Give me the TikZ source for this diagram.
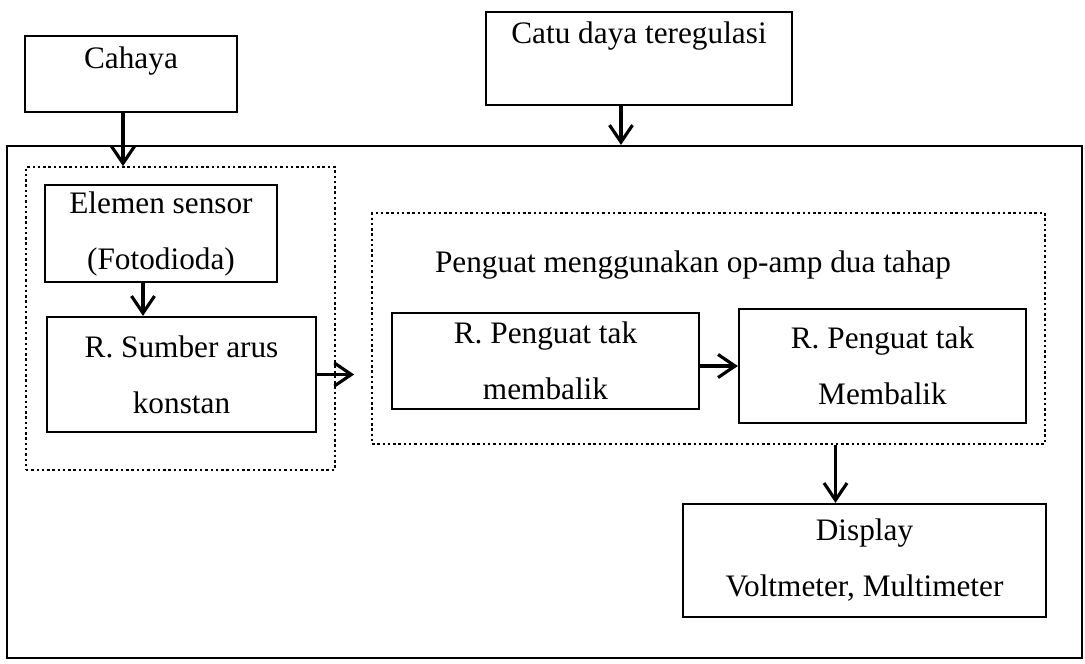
\documentclass[tikz,border=0pt]{standalone}
\usepackage{fontspec}
\setmainfont{Liberation Serif}
\usetikzlibrary{positioning}
\usetikzlibrary{arrows.meta}

\begin{document}
\begin{tikzpicture}[x=0.02cm, y=-0.02cm,
    every node/.style={font=\fontsize{17.8}{31.9}\selectfont, inner sep=0pt, align=center},
    block/.style={draw=black, line width=1.3pt, shape=rectangle},
    group/.style={draw=black, line width=1pt, dash pattern=on 1.4pt off 1.6pt},
    flow/.style={line width=1.8pt, -{Straight Barb[length=3.4mm,width=4.6mm]}}]
    \useasboundingbox (0, 0) rectangle (1085, 663);

    \node (cahaya)[block, minimum width=4.24cm, minimum height=1.52cm, text height=11.4pt, text depth=18.2pt] at (131, 74) {Cahaya};
    \node (power)[block, minimum width=6.12cm, minimum height=1.86cm, text height=11.4pt, text depth=29pt] at (639, 58.5) {Catu daya teregulasi};
    \node (system)[block, minimum width=21.5cm, minimum height=10.24cm] at (544.5, 402) {};

    \node (sensorgroup)[group, minimum width=6.18cm, minimum height=6.06cm] at (180.5, 318.5) {};
    \node (sensor)[block, minimum width=4.64cm, minimum height=1.94cm] at (161, 233.5) {Elemen sensor \\ (Fotodioda)};
    \node (source)[block, minimum width=5.38cm, minimum height=2.3cm] at (181.5, 374.5) {R. Sumber arus \\ konstan};

    \node (amplifier)[group, minimum width=13.46cm, minimum height=4.62cm] at (708.5, 328.5) {};
    \node (amptitle) at (693, 265) {Penguat menggunakan op-amp dua tahap};
    \node (stageone)[block, minimum width=6.14cm, minimum height=1.92cm] at (545.5, 361) {R. Penguat tak \\ membalik};
    \node (stagetwo)[block, minimum width=5.74cm, minimum height=2.28cm] at (882.5, 366) {R. Penguat tak \\ Membalik};

    \node (display)[block, minimum width=7.26cm, minimum height=2.26cm] at (864.5, 560.5) {Display \\ Voltmeter, Multimeter};

    \path [flow] ([xshift=-0.16cm]cahaya.south) edge ([xshift=-0.16cm]cahaya.south |- sensorgroup.north);
    \path [flow] ([xshift=-0.36cm]power.south) edge ([xshift=-0.36cm]power.south |- system.north);
    \path [flow] ([xshift=-0.36cm]sensor.south) edge ([xshift=-0.36cm]sensor.south |- source.north);
    \path [flow] (source.east) edge ([xshift=-0.34cm]source.east -| amplifier.west);
    \path [flow] (stageone.east |- stagetwo.west) edge (stagetwo.west);
    \path [flow] ([xshift=-0.58cm]display.north |- amplifier.south) edge ([xshift=-0.58cm]display.north);
\end{tikzpicture}
\end{document}
